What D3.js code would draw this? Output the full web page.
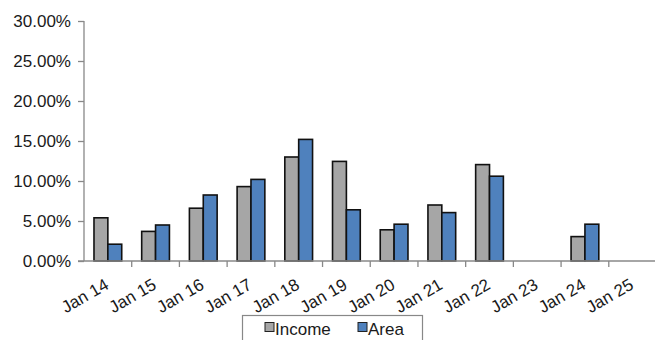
<!DOCTYPE html>
<html>
<head>
<meta charset="utf-8">
<script src="https://cdn.jsdelivr.net/npm/d3@7"></script>
<style>
  html, body { margin: 0; padding: 0; background: #fff; }
  svg { display: block; font-family: "Liberation Sans", Arial, sans-serif; }
</style>
</head>
<body>
<svg id="chart" width="655" height="340"></svg>
<script>
// Monthly growth rates by period
const categories = ["Jan 14", "Jan 15", "Jan 16", "Jan 17", "Jan 18", "Jan 19",
                    "Jan 20", "Jan 21", "Jan 22", "Jan 23", "Jan 24", "Jan 25"];
const incomeValues = [0.054, 0.037, 0.066, 0.093, 0.130, 0.1245, 0.039, 0.070, 0.1205, null, 0.0305, null];
const areaValues   = [0.021, 0.045, 0.0825, 0.102, 0.152, 0.064, 0.046, 0.0605, 0.106, null, 0.046, null];
const seriesNames = ["Income", "Area"];
const seriesColors = ["#a6a6a6", "#4f81bd"];
const yTicks = [0, 0.05, 0.10, 0.15, 0.20, 0.25, 0.30];

const svg = d3.select("#chart");
const plotLeft = 84, plotRight = 656.5, plotTop = 21, plotBottom = 261;
const fontSize = "17px";

const x = d3.scaleBand().domain(categories).range([plotLeft, plotRight]);
const x1 = d3.scaleBand().domain(seriesNames).range([0, x.bandwidth()]).paddingInner(0).paddingOuter(0.72);
const y = d3.scaleLinear().domain([0, 0.30]).range([plotBottom, plotTop]);

const axisColor = "#888";
const fmt = d3.format(".2%");

// Y axis
const yAxis = svg.append("g")
  .attr("transform", `translate(${plotLeft},0)`)
  .call(d3.axisLeft(y).tickValues(yTicks).tickFormat(fmt).tickSize(6).tickPadding(7));
yAxis.select(".domain").attr("stroke", axisColor).attr("stroke-width", 1.3).attr("d", `M0,${plotTop}V${plotBottom}`);
yAxis.selectAll(".tick line").attr("stroke", axisColor).attr("stroke-width", 1.3);
yAxis.selectAll(".tick text").attr("fill", "#1a1a1a").style("font-size", fontSize);

// Bars
const rows = categories.map((c, i) => ({ cat: c, vals: [incomeValues[i], areaValues[i]] }));
const groups = svg.append("g").selectAll("g").data(rows).join("g")
  .attr("transform", d => `translate(${x(d.cat)},0)`);
groups.selectAll("rect")
  .data(d => d.vals.map((v, k) => ({ v, k })).filter(e => e.v != null))
  .join("rect")
  .attr("x", e => x1(seriesNames[e.k]))
  .attr("width", x1.bandwidth())
  .attr("y", e => y(e.v))
  .attr("height", e => plotBottom - y(e.v))
  .attr("fill", e => seriesColors[e.k])
  .attr("stroke", "#111")
  .attr("stroke-width", 1.6);

// X axis
const xAxis = svg.append("g")
  .attr("transform", `translate(0,${plotBottom})`)
  .call(d3.axisBottom(x).tickSize(0).tickPadding(0));
xAxis.select(".domain").attr("stroke", axisColor).attr("stroke-width", 1.3)
  .attr("d", `M${plotLeft - 6},0H${plotRight}`);
xAxis.selectAll(".tick line").remove();
// tick marks at band boundaries
svg.append("g").selectAll("line")
  .data(categories.map(c => x(c) + x.bandwidth()))
  .join("line")
  .attr("x1", d => d).attr("x2", d => d)
  .attr("y1", plotBottom).attr("y2", plotBottom + 6)
  .attr("stroke", axisColor).attr("stroke-width", 1.3);
xAxis.selectAll(".tick text")
  .attr("fill", "#1a1a1a")
  .style("font-size", fontSize)
  .attr("text-anchor", "end")
  .attr("dy", 0)
  .attr("transform", "translate(2,27) rotate(-30)");

// Legend
const legend = svg.append("g");
legend.append("rect")
  .attr("x", 242.5).attr("y", 315.5).attr("width", 180).attr("height", 40)
  .attr("fill", "#fff").attr("stroke", "#888").attr("stroke-width", 1.2);
const legendX = [265, 358];
seriesNames.forEach((name, k) => {
  legend.append("rect")
    .attr("x", legendX[k]).attr("y", 322.5).attr("width", 9).attr("height", 9)
    .attr("fill", seriesColors[k]).attr("stroke", "#222").attr("stroke-width", 1);
  legend.append("text")
    .attr("x", legendX[k] + 10).attr("y", 335)
    .attr("fill", "#1a1a1a").style("font-size", fontSize)
    .text(name);
});
</script>
</body>
</html>
